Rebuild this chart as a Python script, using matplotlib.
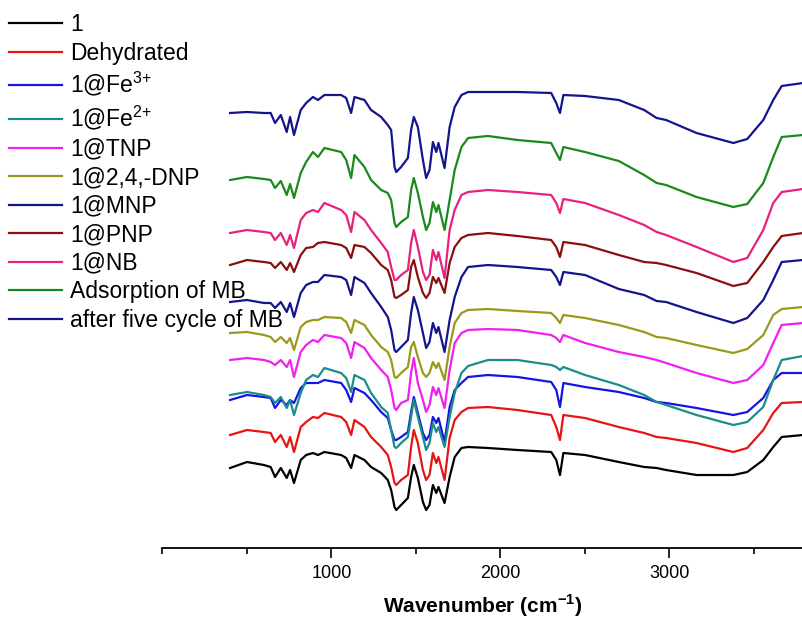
import matplotlib
matplotlib.use("Agg")
import matplotlib.pyplot as plt
from matplotlib.ticker import MultipleLocator

plt.rcParams['font.family'] = ['Liberation Sans', 'DejaVu Sans']
plt.rcParams['mathtext.fontset'] = 'custom'
plt.rcParams['mathtext.rm'] = 'Liberation Sans'
plt.rcParams['mathtext.bf'] = 'Liberation Sans:bold'

# wavenumber grid (cm-1) shared by all spectra
wavenumber = [400, 500, 600, 640, 666, 700, 735, 755, 778, 818,
              850, 890, 920, 958, 1057, 1087, 1116, 1136, 1195, 1234,
              1294, 1333, 1353, 1373, 1383, 1412, 1452, 1471, 1487, 1511,
              1541, 1560, 1580, 1600, 1620, 1633, 1669, 1699, 1729, 1769,
              1808, 1926, 2100, 2300, 2330, 2352, 2372, 2500, 2700, 2850,
              2924, 2980, 3160, 3378, 3460, 3555, 3614, 3664, 3790, 4000]

# stacked transmittance (offset, a.u.)
t_1 = [80, 86, 83, 81, 71, 80, 70, 78, 65, 88,
       93, 95, 93, 96, 93, 90, 80, 93, 88, 81,
       75, 68, 58, 41, 38, 43, 50, 71, 83, 70,
       46, 38, 43, 63, 55, 61, 45, 71, 91, 100,
       101, 100, 98, 96, 88, 73, 95, 93, 86, 81,
       80, 78, 73, 73, 76, 88, 101, 111, 113, 113]
t_dehyd = [113, 118, 116, 115, 106, 113, 101, 111, 96, 121,
           126, 131, 130, 135, 131, 126, 113, 128, 121, 111,
           101, 93, 81, 65, 63, 68, 73, 101, 118, 105,
           78, 68, 73, 95, 85, 91, 68, 110, 128, 136,
           140, 141, 138, 133, 121, 108, 133, 130, 121, 115,
           111, 110, 105, 96, 100, 118, 135, 145, 146, 146]
t_fe3 = [148, 153, 151, 150, 140, 148, 143, 148, 145, 160,
         165, 165, 165, 168, 165, 158, 146, 160, 155, 148,
         136, 130, 118, 108, 108, 111, 116, 136, 151, 135,
         115, 108, 113, 131, 125, 130, 106, 141, 158, 165,
         171, 173, 171, 166, 158, 141, 165, 161, 156, 150,
         146, 145, 140, 133, 136, 150, 168, 175, 175, 175]
t_fe2 = [153, 156, 153, 151, 145, 151, 140, 148, 133, 155,
         168, 173, 171, 180, 175, 170, 156, 173, 168, 155,
         141, 135, 118, 101, 100, 105, 111, 131, 148, 131,
         111, 98, 105, 125, 116, 121, 101, 131, 155, 175,
         182, 188, 188, 183, 181, 178, 181, 173, 163, 153,
         146, 143, 133, 123, 126, 141, 168, 188, 192, 192]
t_tnp = [188, 190, 188, 186, 183, 188, 181, 188, 171, 196,
         203, 208, 206, 213, 210, 205, 190, 206, 200, 190,
         178, 171, 158, 140, 138, 145, 148, 175, 190, 165,
         148, 136, 143, 161, 153, 160, 140, 178, 205, 215,
         218, 219, 218, 213, 210, 206, 213, 205, 196, 191,
         188, 185, 175, 165, 168, 183, 205, 223, 225, 225]
t_dnp = [215, 216, 213, 211, 206, 211, 205, 210, 198, 221,
         226, 228, 228, 231, 230, 226, 215, 228, 223, 213,
         201, 196, 188, 171, 170, 175, 181, 201, 206, 191,
         175, 171, 175, 186, 180, 185, 168, 201, 225, 235,
         238, 239, 237, 235, 230, 225, 233, 230, 223, 216,
         211, 210, 203, 195, 199, 213, 233, 239, 241, 241]
t_mnp = [246, 248, 245, 245, 240, 246, 236, 245, 231, 255,
         263, 266, 266, 273, 271, 268, 253, 271, 265, 255,
         241, 231, 218, 198, 196, 201, 208, 235, 251, 238,
         215, 200, 206, 225, 215, 221, 196, 228, 251, 271,
         281, 283, 281, 278, 271, 263, 276, 273, 259, 253,
         247, 246, 236, 225, 230, 248, 268, 286, 288, 288]
t_pnp = [283, 288, 286, 285, 280, 286, 278, 285, 276, 293,
         300, 301, 305, 306, 303, 300, 290, 303, 301, 295,
         283, 278, 268, 251, 250, 253, 258, 281, 288, 271,
         255, 250, 255, 271, 265, 270, 255, 285, 301, 310,
         313, 315, 312, 308, 301, 291, 306, 303, 293, 286,
         285, 283, 275, 262, 265, 286, 301, 312, 315, 315]
t_nb = [315, 318, 316, 315, 308, 315, 303, 313, 300, 328,
        335, 338, 336, 345, 338, 333, 316, 336, 328, 318,
        305, 296, 281, 268, 268, 273, 278, 305, 318, 301,
        276, 268, 273, 298, 288, 296, 270, 318, 338, 353,
        356, 358, 356, 353, 345, 335, 349, 345, 333, 323,
        316, 313, 301, 286, 290, 318, 345, 356, 359, 359]
t_mb = [368, 371, 369, 368, 360, 367, 353, 364, 350, 375,
        386, 396, 391, 400, 396, 388, 370, 393, 381, 368,
        358, 355, 348, 325, 321, 326, 331, 358, 370, 355,
        331, 318, 325, 346, 336, 343, 318, 348, 378, 401,
        410, 412, 408, 405, 395, 388, 401, 396, 387, 373,
        365, 363, 351, 341, 344, 365, 391, 411, 413, 413]
t_cycle = [435, 436, 435, 435, 425, 433, 416, 431, 413, 438,
           445, 451, 448, 453, 453, 450, 435, 451, 448, 438,
           431, 423, 418, 381, 376, 381, 390, 418, 431, 421,
           388, 370, 378, 406, 396, 405, 380, 421, 441, 453,
           456, 456, 456, 455, 445, 435, 453, 452, 448, 438,
           430, 428, 415, 405, 409, 428, 448, 462, 465, 465]

labels = ['1', 'Dehydrated', '1@Fe$^{3{+}}$', '1@Fe$^{2{+}}$', '1@TNP', '1@2,4,-DNP',
          '1@MNP', '1@PNP', '1@NB', 'Adsorption of MB', 'after five cycle of MB']
spectra = [t_1, t_dehyd, t_fe3, t_fe2, t_tnp, t_dnp, t_mnp, t_pnp, t_nb, t_mb, t_cycle]
colors = ['#000000', '#E81414', '#1414E6', '#1A8C8C', '#F020F0', '#9A9A1A',
          '#14148C', '#8A1010', '#E8207F', '#1A8A1A', '#14148C']

fig = plt.figure(figsize=(8.03, 6.21), dpi=100)
ax = fig.add_axes([162.5 / 803, 73 / 621, 640.5 / 803, 548 / 621])

handles = []
for y, c, lab in zip(spectra, colors, labels):
    line, = ax.plot(wavenumber, y, color=c, lw=1.6, label=lab)
    handles.append(line)

ax.set_xlim(0, 3790)
ax.set_ylim(0, 548)
for s in ['top', 'left', 'right']:
    ax.spines[s].set_visible(False)
ax.spines['bottom'].set_linewidth(1.3)
ax.set_yticks([])
ax.xaxis.set_major_locator(MultipleLocator(1000))
ax.xaxis.set_minor_locator(MultipleLocator(500))
ax.tick_params(axis='x', which='major', direction='out', length=7, width=1.2, labelsize=13, pad=5)
ax.tick_params(axis='x', which='minor', direction='out', length=4, width=1.2)
ax.set_xticks([1000, 2000, 3000])
ax.set_xlabel(r'Wavenumber (cm$^{\mathbf{-1}}$)', fontsize=15, fontweight='bold', labelpad=8)

fig.legend(handles, labels, loc='upper left', bbox_to_anchor=(0.0, 1 - 4 / 621), frameon=False,
           fontsize=16.5, handlelength=2.3, handletextpad=0.35, labelspacing=0.24,
           borderaxespad=0.2, borderpad=0.2)

fig.savefig('out.png', dpi=100)
